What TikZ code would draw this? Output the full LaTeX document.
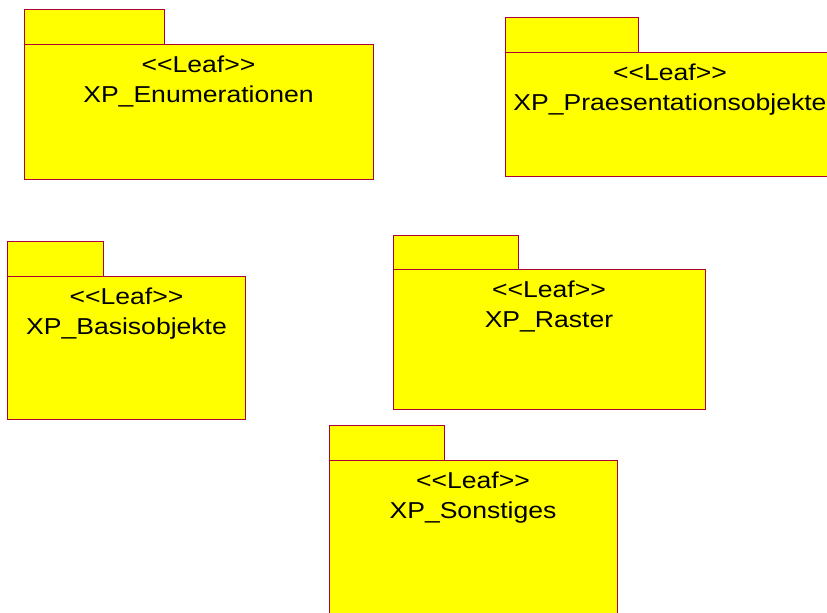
\documentclass[tikz,border=0pt]{standalone}
\usepackage{fontspec}
\usepackage{tikz}
\newfontfamily\pkgfont[FakeStretch=1.155]{Liberation Sans}
\definecolor{pkgline}{RGB}{170,0,51}
\definecolor{pkgfill}{RGB}{255,255,0}
\tikzset{
  pkgbox/.style={draw=pkgline, fill=pkgfill, line width=0.5pt},
  pkgtext/.style={anchor=base, inner sep=0pt, font=\pkgfont\fontsize{11.5}{13.5}\selectfont}
}

\begin{document}
\begin{tikzpicture}[x=0.5pt, y=-0.5pt]
\clip (0,0) rectangle (827,613);
\fill[white] (0,0) rectangle (827,613);

% XP_Enumerationen
\draw[pkgbox] (24,10) rectangle (164,45);
\draw[pkgbox] (24,45) rectangle (373,180);
\node[pkgtext] (enumst) at (198.5,73) {<<Leaf>>};
\node[pkgtext] (enum)   at (198.5,103) {XP\_Enumerationen};

% XP_Praesentationsobjekte
\draw[pkgbox] (505,18) rectangle (638,53);
\draw[pkgbox] (505,53) rectangle (840,177);
\node[pkgtext] (praesst) at (670,81) {<<Leaf>>};
\node[pkgtext] (praes)   at (670,111) {XP\_Praesentationsobjekte};

% XP_Basisobjekte
\draw[pkgbox] (8,242) rectangle (103,277);
\draw[pkgbox] (8,277) rectangle (245,420);
\node[pkgtext] (basisst) at (126.5,305) {<<Leaf>>};
\node[pkgtext] (basis)   at (126.5,335) {XP\_Basisobjekte};

% XP_Raster
\draw[pkgbox] (393,236) rectangle (518,270);
\draw[pkgbox] (393,270) rectangle (705,410);
\node[pkgtext] (rasterst) at (549,298) {<<Leaf>>};
\node[pkgtext] (raster)   at (549,328) {XP\_Raster};

% XP_Sonstiges
\draw[pkgbox] (329,426) rectangle (444,461);
\draw[pkgbox] (329,461) rectangle (617,625);
\node[pkgtext] (sonstst) at (473,489) {<<Leaf>>};
\node[pkgtext] (sonst)   at (473,519) {XP\_Sonstiges};

\end{tikzpicture}
\end{document}
